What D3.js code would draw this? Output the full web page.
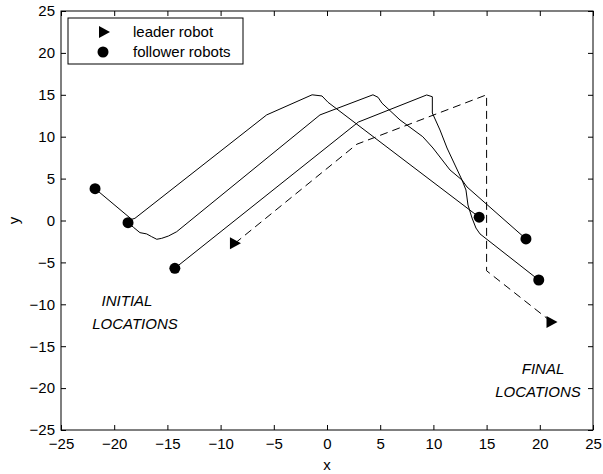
<!DOCTYPE html>
<html>
<head>
<meta charset="utf-8">
<script src="https://cdn.jsdelivr.net/npm/d3@7"></script>
<style>
  body { margin: 0; background: #fff; }
  svg { font-family: "Liberation Sans", Arial, Helvetica, sans-serif; }
</style>
</head>
<body>
<div id="chart"></div>
<script>
// Robot trajectories

var xTicks = [-25, -20, -15, -10, -5, 0, 5, 10, 15, 20, 25];
var yTicks = [-25, -20, -15, -10, -5, 0, 5, 10, 15, 20, 25];

// leader path (dashed)
var leaderPath = [[-8.65, -2.72], [2.8, 9.1], [15, 15], [15, -6], [21.1, -12.1]];

// follower paths (solid)
var follower1 = [[-21.8, 3.8], [-18.36, 0.14], [-18.05, 0.26], [-5.67, 12.6], [-1.4, 15],
    [-0.47, 14.86], [0.1, 14.1], [14.3, 0.4]];
var follower2 = [[-18.7, -0.26], [-18.2, -0.8], [-17.58, -1.45], [-16.95, -1.6], [-16.48, -1.93],
    [-16.0, -2.24], [-15.54, -2.13], [-14.9, -1.85], [-14.13, -1.34], [-0.66, 12.6], [4.32, 15],
    [4.8, 14.7], [5.17, 14.0], [6.86, 12.0], [9.0, 10.0], [9.96, 8.65], [11.56, 6.03],
    [12.69, 4.83], [13.16, 4.0], [18.7, -2.2]];
var follower3 = [[-14.3, -5.7], [2.95, 11.75], [9.37, 14.98], [9.9, 14.77], [9.9, 12.83],
    [10.62, 10.8], [11.28, 8.65], [12.03, 6.62], [12.69, 4.83], [13.06, 3.64], [13.25, 1.85],
    [13.63, 0.3], [14.0, -0.9], [14.38, -1.6], [19.9, -7.1]];
var followers = [follower1, follower2, follower3];

var legendLabels = ['leader robot', 'follower robots'];

var svgWidth = 603;
var svgHeight = 474;

var svg = d3.select("#chart")
    .append("svg")
        .attr("width", svgWidth)
        .attr("height", svgHeight);

var x = d3.scaleLinear()
    .domain([-25, 25])
    .range([61, 593]);

var y = d3.scaleLinear()
    .domain([-25, 25])
    .range([430, 11]);

// axes, ticks inward on all four sides
svg.append("g")
    .attr("transform", "translate(0,430)")
    .call(d3.axisBottom(x).tickValues(xTicks).tickSizeInner(-5).tickSizeOuter(0).tickPadding(8))
    .call(g => g.select(".domain").remove());
svg.append("g")
    .attr("transform", "translate(0,11)")
    .call(d3.axisTop(x).tickValues(xTicks).tickSizeInner(-5).tickSizeOuter(0).tickFormat(""))
    .call(g => g.select(".domain").remove());
svg.append("g")
    .attr("transform", "translate(61,0)")
    .call(d3.axisLeft(y).tickValues(yTicks).tickSizeInner(-5).tickSizeOuter(0).tickPadding(6))
    .call(g => g.select(".domain").remove());
svg.append("g")
    .attr("transform", "translate(593,0)")
    .call(d3.axisRight(y).tickValues(yTicks).tickSizeInner(-5).tickSizeOuter(0).tickFormat(""))
    .call(g => g.select(".domain").remove());

svg.selectAll(".tick text")
    .style("font-size", "15px")
    .attr("fill", "#000");
svg.selectAll(".tick line")
    .attr("stroke", "#000");

// frame
svg.append("rect")
    .attr("x", x(-25))
    .attr("y", y(25))
    .attr("width", x(25) - x(-25))
    .attr("height", y(-25) - y(25))
    .attr("fill", "none")
    .attr("stroke", "#000")
    .attr("stroke-width", 1);

// axis labels
svg.append("text")
    .attr("x", x(0))
    .attr("y", 470)
    .attr("text-anchor", "middle")
    .style("font-size", "15px")
    .text("x");
svg.append("text")
    .attr("transform", "translate(19," + y(0) + ")rotate(-90)")
    .attr("text-anchor", "middle")
    .style("font-size", "15px")
    .text("y");

var line = d3.line()
    .x(function(d) { return x(d[0]); })
    .y(function(d) { return y(d[1]); });

// leader
svg.append("path")
    .datum(leaderPath)
    .attr("d", line)
    .attr("fill", "none")
    .attr("stroke", "#000")
    .attr("stroke-width", 1)
    .attr("stroke-dasharray", "8,5");

// followers
svg.selectAll("followerline")
    .data(followers)
    .enter().append("path")
        .attr("d", line)
        .attr("fill", "none")
        .attr("stroke", "#000")
        .attr("stroke-width", 1);

var tri = "M-5,-6L6,0L-5,6Z";

// leader markers (start and end)
svg.selectAll("leadermark")
    .data([leaderPath[0], leaderPath[leaderPath.length - 1]])
    .enter().append("path")
        .attr("d", tri)
        .attr("transform", function(d) { return "translate(" + x(d[0]) + "," + y(d[1]) + ")"; })
        .attr("fill", "#000");

// follower markers (start and end)
var followerEnds = [];
followers.forEach(function(f) {
    followerEnds.push(f[0]);
    followerEnds.push(f[f.length - 1]);
});
svg.selectAll("followermark")
    .data(followerEnds)
    .enter().append("circle")
        .attr("cx", function(d) { return x(d[0]); })
        .attr("cy", function(d) { return y(d[1]); })
        .attr("r", 5.5)
        .attr("fill", "#000");

// annotations
var initialText = svg.append("text")
    .attr("text-anchor", "middle")
    .style("font-size", "15px")
    .style("font-style", "italic");
initialText.append("tspan").attr("x", 127).attr("y", 306).text("INITIAL");
initialText.append("tspan").attr("x", 135).attr("y", 329).text("LOCATIONS");

var finalText = svg.append("text")
    .attr("text-anchor", "middle")
    .style("font-size", "15px")
    .style("font-style", "italic");
finalText.append("tspan").attr("x", 543).attr("y", 374).text("FINAL");
finalText.append("tspan").attr("x", 538).attr("y", 397).text("LOCATIONS");

// legend
var legendG = svg.append("g")
    .attr("transform", "translate(68,18)")
    .attr("class", "legend");

legendG.append("rect")
    .attr("width", 175)
    .attr("height", 46)
    .attr("fill", "#fff")
    .attr("stroke", "#000")
    .attr("stroke-width", 1);

legendG.append("path")
    .attr("d", tri)
    .attr("transform", "translate(36,14)")
    .attr("fill", "#000");
legendG.append("circle")
    .attr("cx", 35)
    .attr("cy", 34)
    .attr("r", 5.5)
    .attr("fill", "#000");

legendG.selectAll("legendtext")
    .data(legendLabels)
    .enter().append("text")
        .attr("x", 65)
        .attr("y", function(d, i) { return 19 + i * 20; })
        .style("font-size", "15px")
        .text(function(d) { return d; });
</script>
</body>
</html>
